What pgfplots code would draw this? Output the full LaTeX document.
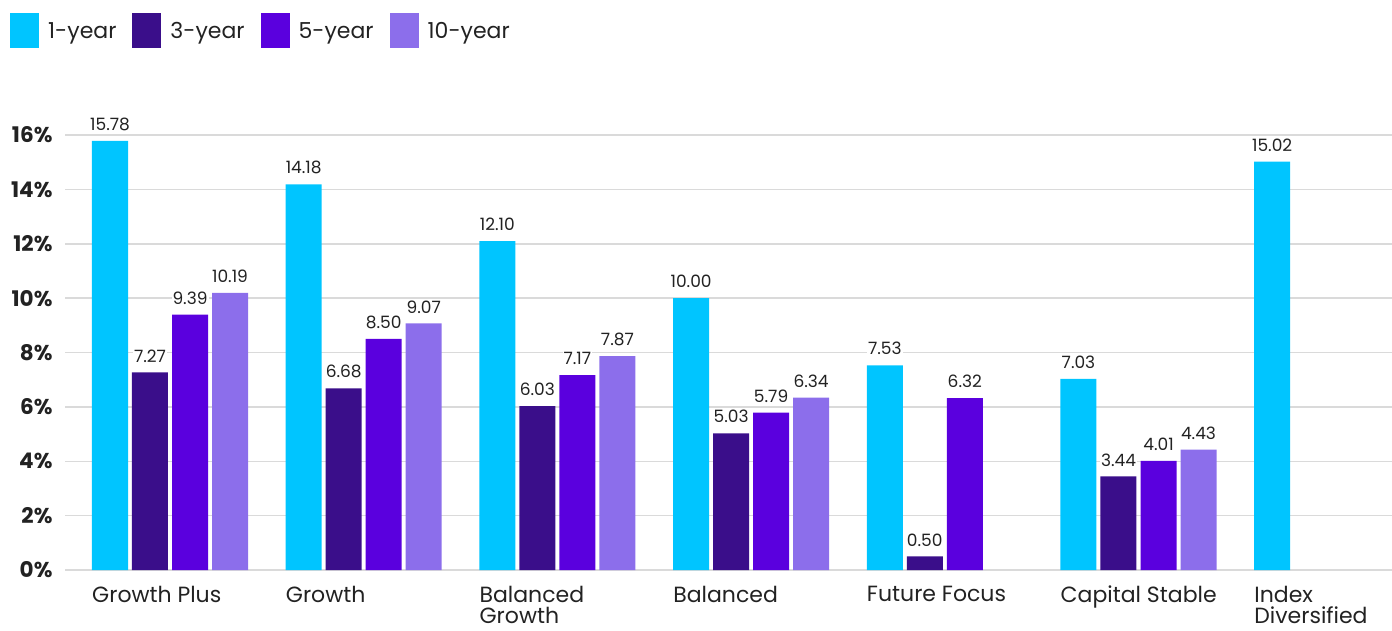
\documentclass[border=0pt]{standalone}
\usepackage{pgfplots}
\pgfplotsset{compat=1.18}
\usepackage{fontspec}
\setmainfont{Poppins}
\definecolor{c1}{HTML}{00C5FF}
\definecolor{c3}{HTML}{3A0E8A}
\definecolor{c5}{HTML}{5A00DE}
\definecolor{c10}{HTML}{8C6EEB}
\definecolor{txt}{HTML}{222222}
\definecolor{gridc}{HTML}{DADADA}
\begin{document}
\begin{tikzpicture}
\begin{axis}[
  scale only axis, width=1327pt, height=435pt,
  ymin=0, ymax=16, xmin=-0.5421, xmax=6.3088,
  ybar, bar width=0.1859,
  ytick={0,2,...,16},
  yticklabels={0\%,2\%,4\%,6\%,8\%,10\%,12\%,14\%,16\%},
  ymajorgrids, grid style={gridc, line width=1.5pt},
  axis line style={draw=none}, major tick length=0pt,
  xtick={-0.4027,0.5973,1.5973,2.5973,3.5973,4.5973,5.5973},
  xticklabels={Growth Plus, Growth, {Balanced\\Growth}, Balanced, Future Focus, Capital Stable, {Index\\Diversified}},
  xticklabel style={anchor=north west, align=left, font=\fontsize{22}{21}\selectfont, text=txt, inner sep=0pt, yshift=-16pt},
  yticklabel style={font=\fontsize{21.5}{22}\selectfont\bfseries, text=txt, xshift=-9pt},
  point meta=explicit symbolic,
  nodes near coords,
  nodes near coords style={font=\fontsize{17}{18}\selectfont, text=txt, anchor=south, fill=white, inner sep=1pt, yshift=9pt},
  every axis plot/.append style={draw=none},
  legend style={draw=none, fill=none, at={(rel axis cs:-0.04145,1.2805)}, anchor=north west,
    inner sep=0pt, font=\fontsize{22}{24}\selectfont, text=txt, nodes={inner sep=0pt},
    /tikz/every odd column/.append style={column sep=9pt},
    /tikz/every even column/.append style={column sep=16pt}},
  legend columns=-1,
  legend image code/.code={\fill[#1] (0pt,-17pt) rectangle (29pt,18pt);},
]
\addplot[fill=c1, bar shift=-0.3098] coordinates {
  (0,15.78) [15.78] (1,14.18) [14.18] (2,12.10) [12.10] (3,10.00) [10.00]
  (4,7.53) [7.53] (5,7.03) [7.03] (6,15.02) [15.02]};
\addplot[fill=c3, bar shift=-0.1033] coordinates {
  (0,7.27) [7.27] (1,6.68) [6.68] (2,6.03) [6.03] (3,5.03) [5.03]
  (4,0.50) [0.50] (5,3.44) [3.44]};
\addplot[fill=c5, bar shift=0.1033] coordinates {
  (0,9.39) [9.39] (1,8.50) [8.50] (2,7.17) [7.17] (3,5.79) [5.79]
  (4,6.32) [6.32] (5,4.01) [4.01]};
\addplot[fill=c10, bar shift=0.3098] coordinates {
  (0,10.19) [10.19] (1,9.07) [9.07] (2,7.87) [7.87] (3,6.34) [6.34]
  (5,4.43) [4.43]};
\legend{1-year,3-year,5-year,10-year}
\coordinate (bl) at (rel axis cs:0,0);
\coordinate (tr) at (rel axis cs:1,1);
\end{axis}
\pgfresetboundingbox
\path[use as bounding box] ([xshift=-65pt,yshift=-60pt]bl) rectangle ([yshift=135pt]tr);
\end{tikzpicture}
\end{document}
